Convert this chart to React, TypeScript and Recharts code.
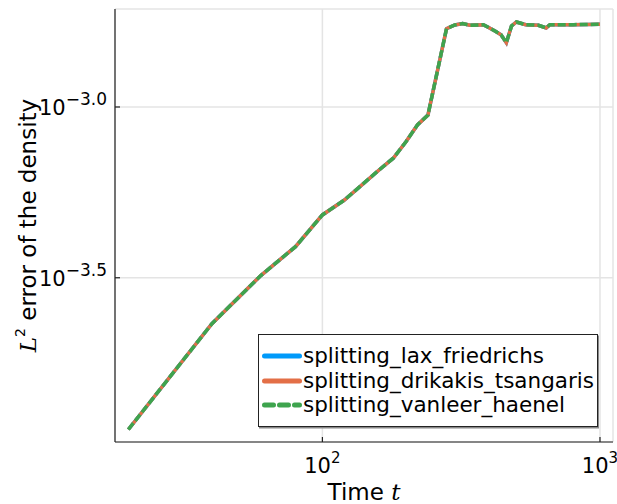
import React from "react";
import { LineChart, Line, XAxis, YAxis, CartesianGrid, Legend } from "recharts";

// ─── Data ─────────────────────────────────────────────────────────────────────

const times = [20, 40, 60, 80, 100, 120, 160, 180, 200, 220, 240, 280, 300, 320, 340, 380, 400, 420, 440, 460, 480, 500, 540, 600, 640, 660, 800, 1000];

const errLaxFriedrichs = [
  1.137e-4, 2.32e-4, 3.21e-4, 3.9e-4, 4.83e-4, 5.34e-4, 6.54e-4, 7.08e-4, 7.91e-4, 8.86e-4, 9.47e-4,
  1.696e-3, 1.739e-3, 1.754e-3, 1.735e-3, 1.742e-3, 1.704e-3, 1.666e-3, 1.628e-3, 1.543e-3, 1.727e-3,
  1.774e-3, 1.742e-3, 1.735e-3, 1.704e-3, 1.742e-3, 1.742e-3, 1.747e-3,
];
const errDrikakisTsangaris = [
  1.137e-4, 2.32e-4, 3.21e-4, 3.9e-4, 4.83e-4, 5.34e-4, 6.54e-4, 7.08e-4, 7.91e-4, 8.86e-4, 9.47e-4,
  1.696e-3, 1.739e-3, 1.754e-3, 1.735e-3, 1.742e-3, 1.704e-3, 1.666e-3, 1.628e-3, 1.543e-3, 1.727e-3,
  1.774e-3, 1.742e-3, 1.735e-3, 1.704e-3, 1.742e-3, 1.742e-3, 1.747e-3,
];
const errVanleerHaenel = [
  1.137e-4, 2.32e-4, 3.21e-4, 3.9e-4, 4.83e-4, 5.34e-4, 6.54e-4, 7.08e-4, 7.91e-4, 8.86e-4, 9.47e-4,
  1.696e-3, 1.739e-3, 1.754e-3, 1.735e-3, 1.742e-3, 1.704e-3, 1.666e-3, 1.628e-3, 1.543e-3, 1.727e-3,
  1.774e-3, 1.742e-3, 1.735e-3, 1.704e-3, 1.742e-3, 1.742e-3, 1.747e-3,
];

const xTicks = [100, 1000];
const yTicks = [1e-3, Math.pow(10, -3.5)];

const SERIES = [
  { key: "lax", name: "splitting_lax_friedrichs", color: "#009AFA", dash: undefined as string | undefined },
  { key: "dri", name: "splitting_drikakis_tsangaris", color: "#E36F47", dash: undefined as string | undefined },
  { key: "van", name: "splitting_vanleer_haenel", color: "#3EA44E", dash: "8 3" },
];

const data = times.map((t, i) => ({
  t,
  lax: errLaxFriedrichs[i],
  dri: errDrikakisTsangaris[i],
  van: errVanleerHaenel[i],
}));

// ─── Pieces ───────────────────────────────────────────────────────────────────

const FONT = "DejaVu Sans";
const AXIS = "#222";

const XTick = ({ x, y, payload }: any) => {
  const exp = Math.round(Math.log10(payload.value)).toString();
  return (
    <g>
      <line x1={x} y1={y} x2={x} y2={y - 5} stroke={AXIS} strokeWidth={1.2} />
      <text x={x} y={y + 31} textAnchor="middle" fontFamily={FONT} fontSize={21} fill="#000">
        10<tspan fontSize={15} dy={-10}>{exp}</tspan>
      </text>
    </g>
  );
};

const YTick = ({ x, y, payload }: any) => {
  const exp = Math.log10(payload.value).toFixed(1).replace("-", "\u2212");
  return (
    <g>
      <line x1={x} y1={y} x2={x + 5} y2={y} stroke={AXIS} strokeWidth={1.2} />
      <text x={x - 8} y={y + 8} textAnchor="end" fontFamily={FONT} fontSize={21} fill="#000">
        10<tspan fontSize={17} dy={-10}>{exp}</tspan>
      </text>
    </g>
  );
};

const XTitle = ({ viewBox }: any) => (
  <text x={viewBox.x + viewBox.width / 2} y={viewBox.y + 58} textAnchor="middle" fontFamily={FONT} fontSize={23} fill="#000">
    Time <tspan fontFamily="DejaVu Serif" fontStyle="italic">t</tspan>
  </text>
);

const YTitle = ({ viewBox }: any) => {
  const cx = 36;
  const cy = viewBox.y + viewBox.height / 2;
  return (
    <text x={cx} y={cy} transform={`rotate(-90, ${cx}, ${cy})`} textAnchor="middle" fontFamily={FONT} fontSize={23} fill="#000">
      <tspan fontFamily="DejaVu Serif" fontStyle="italic">L</tspan>
      <tspan fontSize={14} dy={-11}>2</tspan>
      <tspan dy={11}> error of the density</tspan>
    </text>
  );
};

const LegendBox = () => (
  <div style={s.legend}>
    {SERIES.map((d) => (
      <div key={d.key} style={s.legendRow}>
        <svg width={40} height={10} style={{ marginLeft: 3, flex: "none" }}>
          <line x1={2.5} y1={5} x2={37.5} y2={5} stroke={d.color} strokeWidth={5} strokeLinecap="round" strokeDasharray={d.dash ? "9 6" : undefined} />
        </svg>
        <span style={{ marginLeft: 1, whiteSpace: "nowrap" }}>{d.name}</span>
      </div>
    ))}
  </div>
);

// ─── Chart ────────────────────────────────────────────────────────────────────

export default function App() {
  return (
    <div style={{ position: "absolute", left: 0, top: 0, width: 617, height: 504, background: "#fff" }}>
      <LineChart width={617} height={504} data={data} margin={{ top: 9, right: 4, bottom: 0, left: 0 }}>
        <CartesianGrid stroke="#e4e4e4" strokeWidth={1.5} />
        <XAxis
          dataKey="t"
          type="number"
          scale="log"
          domain={[17.9, 1114]}
          allowDataOverflow
          ticks={xTicks}
          tick={<XTick />}
          tickSize={0}
          tickMargin={0}
          tickLine={false}
          axisLine={{ stroke: AXIS, strokeWidth: 1.2 }}
          height={62}
          label={{ content: <XTitle /> } as any}
        />
        <YAxis
          type="number"
          scale="log"
          domain={[1.045e-4, 1.936e-3]}
          allowDataOverflow
          ticks={yTicks}
          tick={<YTick />}
          tickSize={0}
          tickMargin={0}
          tickLine={false}
          axisLine={{ stroke: AXIS, strokeWidth: 1.2 }}
          width={115}
          label={{ content: <YTitle /> } as any}
        />
        <Legend
          layout="vertical"
          align="center"
          verticalAlign="middle"
          content={<LegendBox />}
          wrapperStyle={{ left: 258, top: 334, width: 340 }}
        />
        {SERIES.map((d) => (
          <Line
            key={d.key}
            dataKey={d.key}
            name={d.name}
            stroke={d.color}
            strokeWidth={3.5}
            strokeDasharray={d.dash}
            dot={false}
            type="linear"
            isAnimationActive={false}
          />
        ))}
      </LineChart>
    </div>
  );
}

const s: Record<string, React.CSSProperties> = {
  legend: {
    width: 340,
    height: 93,
    boxSizing: "border-box",
    border: "1px solid #222",
    boxShadow: "1px 1.5px 0 #888",
    background: "#fff",
    paddingTop: 9,
    fontFamily: FONT,
    fontSize: 21.5,
    color: "#000",
  },
  legendRow: { display: "flex", alignItems: "center", height: 24.5, lineHeight: "24px" },
};
